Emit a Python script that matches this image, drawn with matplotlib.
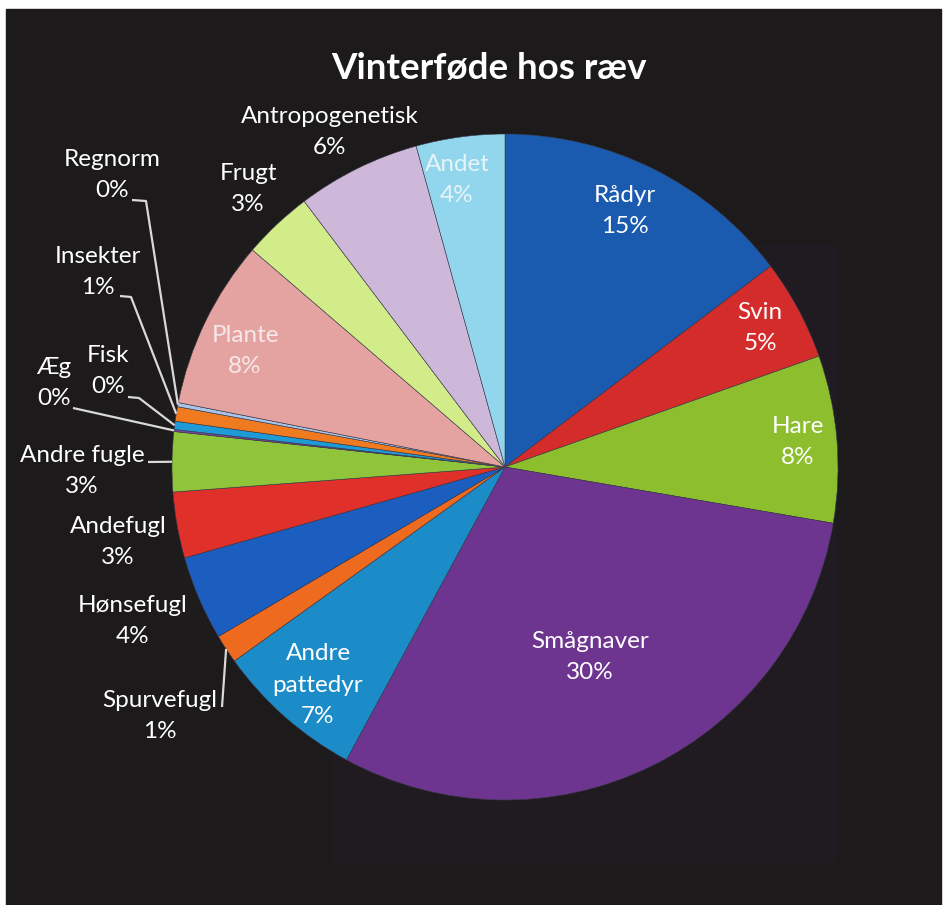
import matplotlib.pyplot as plt
from matplotlib.patches import Rectangle
import numpy as np

# ----------------------------------------------------------------------
# data (percent of winter diet)

names = ["Rådyr", "Svin", "Hare", "Smågnaver", "Andre\npattedyr",
         "Spurvefugl", "Hønsefugl", "Andefugl", "Andre fugle", "Æg",
         "Fisk", "Insekter", "Regnorm", "Plante", "Frugt",
         "Antropogenetisk", "Andet"]
values = [14.7, 4.9, 8.1, 30.2, 7.2,
          1.4, 4.1, 3.2, 2.9, 0.1,
          0.4, 0.7, 0.2, 8.2, 3.4,
          6.0, 4.3]
colors = ["#1A5AAF", "#D42B2B", "#8CBE2E", "#6E3590", "#1C8CC8",
          "#EE6A1E", "#1B5EBF", "#E0302A", "#90C43A", "#7A45A0",
          "#1E9AD6", "#F07A20", "#A9C4E8", "#E4A3A0", "#D2EC8A",
          "#CDB8DA", "#92D6EE"]

# ----------------------------------------------------------------------
# layout (pixels, y downwards)

W, H = 950, 905
cx, cy, R = 505, 467, 333
# centre of the label block for every slice, and where a leader line starts
lab_pos = [(625, 211), (760, 328), (798, 442), (590, 657), (318, 685),
           (160, 716), (133, 621), (118, 542), (82, 471), (54, 383),
           (108, 371), (98, 272), (112, 175), (245, 351), (248, 189),
           (330, 132), (457, 180)]
leader = {5: [(222, 707)], 8: [(148, 462)], 9: [(73, 408)],
          10: [(128, 397), (139, 398)], 11: [(120, 296), (131, 297)],
          12: [(132, 200), (146, 201)]}
lab_col = {13: "#F6E8E8", 16: "#E6F4F8"}

FONT = "Lato"
fs = 17.5
step = 31.5

fig = plt.figure(figsize=(W / 100, H / 100), dpi=100, facecolor="white")
ax = fig.add_axes([0, 0, 1, 1])

tot = sum(values)
wedges, _ = ax.pie(values, colors=colors, startangle=-90, counterclock=True,
                   center=(cx, cy), radius=R,
                   wedgeprops=dict(edgecolor="#3A3A4A", linewidth=0.4))

ax.set_xlim(0, W)
ax.set_ylim(H, 0)
ax.set_aspect("auto")
ax.axis("off")

# black slide background + faint plot area
ax.add_patch(Rectangle((6, 9), 935, H - 9, color="#1C1A1A", zorder=-3))
ax.add_patch(Rectangle((333, 245), 503, 617, color="#201B20", zorder=-2))
ax.add_patch(Rectangle((167, 245), 170, 400, color="#1E1B1D", zorder=-2))

for i, w in enumerate(wedges):
    # labels
    x, y = lab_pos[i]
    pct = "%d%%" % round(values[i] / tot * 100)
    lines = names[i].split("\n") + [pct]
    col = lab_col.get(i, "white")
    y0 = y - step * (len(lines) - 1) / 2
    for k, t in enumerate(lines):
        ax.text(x, y0 + k * step, t, ha="center", va="center", color=col,
                fontsize=fs, family=FONT)
    # leader lines to the slice edge
    if i in leader:
        mid = np.radians((w.theta1 + w.theta2) / 2)
        ex, ey = cx + R * np.cos(mid), cy + R * np.sin(mid)
        pts = leader[i] + [(ex, ey)]
        ax.plot([p[0] for p in pts], [p[1] for p in pts], color="#D8D8D8",
                lw=1.6, solid_capstyle="butt")

ax.text(489, 68, "Vinterføde hos ræv", ha="center", va="center",
        color="white", fontsize=26.5, fontweight="bold", family=FONT)

fig.savefig("out.png", dpi=100, facecolor="white")
